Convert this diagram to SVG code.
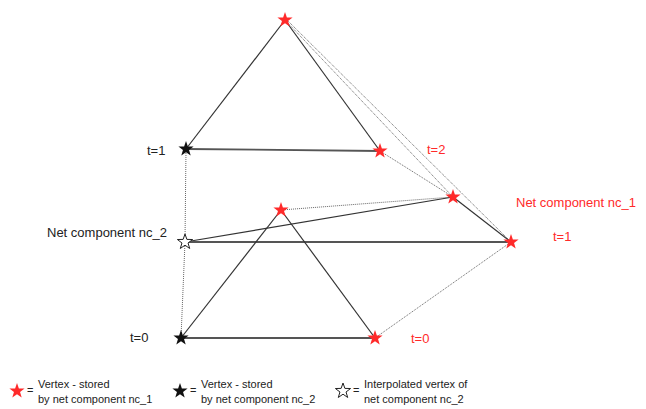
<svg xmlns="http://www.w3.org/2000/svg" xmlns:xlink="http://www.w3.org/1999/xlink" width="646" height="409" viewBox="0 0 646 409">
<style>
.solid{stroke:#333;stroke-width:1.2;fill:none}
.thick{stroke:#555;stroke-width:1.8;fill:none}
.dot{stroke:#666;stroke-width:1;stroke-dasharray:1 1;fill:none}
.lbl{font-family:"Liberation Sans",Arial,sans-serif;font-size:13px}
.leg{font-family:"Liberation Sans",Arial,sans-serif;font-size:11px;fill:#222}
.red{fill:#ff2a2a}
.blk{fill:#111}
.hol{fill:#fff;stroke:#222;stroke-width:1}
</style>
<defs>
<path id="star" d="M0,-8 L1.88,-2.6 L7.6,-2.47 L3.04,0.99 L4.7,6.47 L0,3.2 L-4.7,6.47 L-3.04,0.99 L-7.6,-2.47 L-1.88,-2.6 Z"/>
</defs>
<rect width="646" height="409" fill="#fff"/>
<g id="connectors">
<line class="solid" x1="285" y1="20" x2="186" y2="149"/>
<line class="solid" x1="285" y1="20" x2="380" y2="151"/>
<line class="thick" x1="186" y1="149" x2="380" y2="151"/>
<line class="dot" x1="285" y1="20" x2="453" y2="197"/>
<line class="dot" x1="287" y1="20" x2="511" y2="242"/>
<line class="dot" x1="380" y1="151" x2="453" y2="197"/>
<line class="solid" x1="453" y1="197" x2="511" y2="242"/>
<line class="dot" x1="281" y1="210" x2="453" y2="197"/>
<line class="solid" x1="185" y1="242" x2="453" y2="197"/>
<line class="thick" x1="185" y1="242" x2="511" y2="242"/>
<line class="dot" x1="511" y1="242" x2="375" y2="338"/>
<line class="solid" x1="281" y1="210" x2="181" y2="338"/>
<line class="solid" x1="281" y1="210" x2="375" y2="338"/>
<line class="thick" x1="181" y1="338" x2="375" y2="338"/>
<line class="dot" x1="186" y1="149" x2="185" y2="242"/>
<line class="dot" x1="185" y1="242" x2="181" y2="338"/>
</g>
<g id="n_top"><use xlink:href="#star" class="red" x="285" y="20"/></g>
<g id="n_b1"><use xlink:href="#star" class="blk" x="186" y="149"/></g>
<g id="n_c1"><use xlink:href="#star" class="red" x="380" y="151"/></g>
<g id="n_d"><use xlink:href="#star" class="red" x="453" y="197"/></g>
<g id="n_e"><use xlink:href="#star" class="red" x="511" y="242"/></g>
<g id="n_f"><use xlink:href="#star" class="red" x="281" y="210"/></g>
<g id="n_g"><use xlink:href="#star" class="hol" x="185" y="242"/></g>
<g id="n_h"><use xlink:href="#star" class="blk" x="181" y="338"/></g>
<g id="n_i"><use xlink:href="#star" class="red" x="375" y="338"/></g>
<g id="labels">
<text class="lbl" x="147" y="155" fill="#222">t=1</text>
<text class="lbl" x="130" y="342" fill="#222">t=0</text>
<text class="lbl" x="47" y="237" fill="#222">Net component nc_2</text>
<text class="lbl" x="427" y="154" fill="#ff2a2a">t=2</text>
<text class="lbl" x="516" y="207" fill="#ff2a2a">Net component nc_1</text>
<text class="lbl" x="553" y="241" fill="#ff2a2a">t=1</text>
<text class="lbl" x="411" y="343" fill="#ff2a2a">t=0</text>
</g>
<g id="legend">
<use xlink:href="#star" class="red" x="17" y="391"/>
<text class="leg" x="27" y="394">=</text>
<text class="leg" x="38" y="388">Vertex - stored</text>
<text class="leg" x="38" y="403">by net component nc_1</text>
<use xlink:href="#star" class="blk" x="180" y="391"/>
<text class="leg" x="190" y="394">=</text>
<text class="leg" x="201" y="388">Vertex - stored</text>
<text class="leg" x="201" y="403">by net component nc_2</text>
<use xlink:href="#star" class="hol" x="343" y="391"/>
<text class="leg" x="353" y="394">=</text>
<text class="leg" x="364" y="388">Interpolated vertex of</text>
<text class="leg" x="364" y="403">net component nc_2</text>
</g>
</svg>
